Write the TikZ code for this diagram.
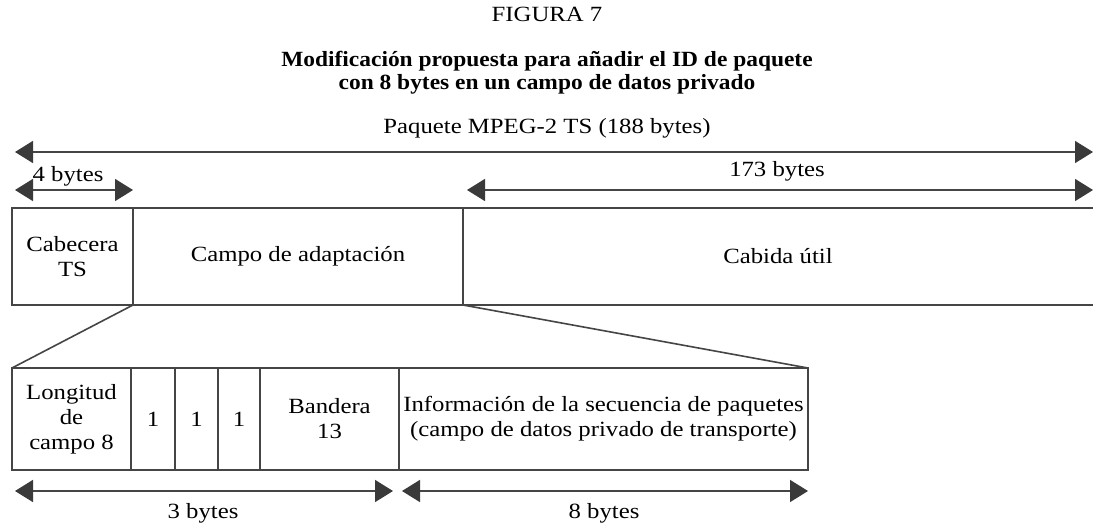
\documentclass[tikz,border=0pt]{standalone}
\usepackage{fontspec}
\setmainfont{Liberation Serif}[FakeStretch=1.14, BoldFeatures={FakeStretch=1.08}]
\usetikzlibrary{arrows.meta}
\definecolor{ln}{HTML}{454545}
\definecolor{tip}{HTML}{3A3A3A}
\begin{document}
\begin{tikzpicture}[x=1pt,y=-1pt,
  txt/.style={font=\fontsize{21.7}{25}\selectfont, align=center, inner sep=0pt},
  box/.style={txt, draw=ln, line width=1.6pt, anchor=north west, outer sep=0pt},
  tbox/.style={box, minimum height=97pt},
  bbox/.style={box, minimum height=102pt},
  conn/.style={draw=ln, line width=1.6pt},
  dim/.style={draw=ln, line width=1.6pt, {Triangle[length=18pt,width=22pt,fill=tip,color=tip]}-{Triangle[length=18pt,width=22pt,fill=tip,color=tip]}}
]
\useasboundingbox (0,0) rectangle (1093,525);

% titles
\node[txt] (fig) at (547,14) {FIGURA 7};
\node[txt, font=\fontsize{21.7}{23}\selectfont\bfseries] (ttl) at (547,73) {Modificación propuesta para añadir el ID de paquete\\con 8 bytes en un campo de datos privado};

% dimension arrows top
\coordinate (pL) at (15,152);
\coordinate (pR) at (1093,152);
\draw[dim] (pL) -- (pR);
\node[txt] (pLab) at (547,128) {Paquete MPEG-2 TS (188 bytes)};

\coordinate (fL) at (15,190);
\coordinate (fR) at (133,190);
\draw[dim] (fL) -- (fR);
\node[txt] (fLab) at (68,176) {4 bytes};

\coordinate (sL) at (467,190);
\coordinate (sR) at (1093,190);
\draw[dim] (sL) -- (sR);
\node[txt] (sLab) at (777,171) {173 bytes};

% top boxes
\node[tbox, minimum width=121pt] (hdr) at (12,208) {Cabecera\\TS};
\node[tbox, minimum width=330pt] (adp) at (133,208) {Campo de adaptación};
\node[tbox, draw=none, minimum width=630pt] (pay) at (463,208) {Cabida útil};
\draw[conn] (pay.north west) -- (pay.north east);
\draw[conn] (pay.south west) -- (pay.south east);

% bottom boxes
\node[bbox, minimum width=119pt] (len) at (12,368) {Longitud\\de\\campo 8};
\node[bbox, minimum width=44pt] (b1) at (131,368) {1};
\node[bbox, minimum width=43pt] (b2) at (175,368) {1};
\node[bbox, minimum width=42pt] (b3) at (218,368) {1};
\node[bbox, minimum width=139pt] (flag) at (260,368) {Bandera\\13};
\node[bbox, minimum width=409pt] (info) at (399,368) {Información de la secuencia de paquetes\\(campo de datos privado de transporte)};

% expansion lines
\draw[conn] (hdr.south east) -- (len.north west);
\draw[conn] (adp.south east) -- (info.north east);

% bottom dimension arrows
\coordinate (tL) at (15,491);
\coordinate (tR) at (393,491);
\draw[dim] (tL) -- (tR);
\node[txt] (tLab) at (203,513) {3 bytes};

\coordinate (eL) at (402,491);
\coordinate (eR) at (808,491);
\draw[dim] (eL) -- (eR);
\node[txt] (eLab) at (604,513) {8 bytes};
\end{tikzpicture}
\end{document}
